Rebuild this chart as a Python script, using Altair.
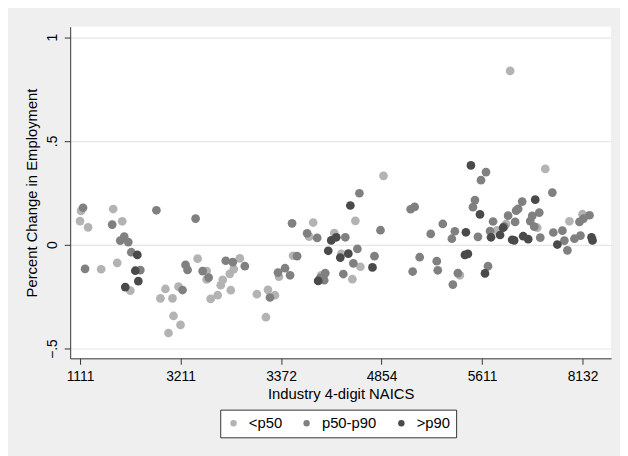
import altair as alt
import pandas as pd

# industry position (rank along the NAICS ordering), tick positions and labels
tick_pos = [0, 100, 200, 300, 400, 500]
tick_labels = ["1111", "3211", "3372", "4854", "5611", "8132"]

x_rank = [0, 1, 3, 5, 8, 21, 32, 33, 37, 40, 42, 44, 45, 48, 50, 51, 57, 55, 60, 58,
          76, 80, 85, 88, 92, 93, 98, 100, 102, 115, 105, 107, 117, 122, 126, 126, 128, 130, 137, 140,
          142, 149, 153, 145, 152, 159, 164, 150, 176, 185, 187, 194, 189, 197, 198, 204, 209, 211, 212, 216,
          226, 228, 232, 236, 240, 237, 239, 244, 243, 247, 250, 253, 255, 264, 260, 259, 267, 262, 271, 269,
          274, 278, 272, 279, 276, 291, 293, 299, 302, 329, 333, 331, 338, 349, 355, 356, 361, 370, 371, 373,
          378, 376, 383, 386, 384, 389, 396, 393, 391, 398, 399, 404, 403, 406, 408, 409, 411, 415, 418, 422,
          421, 424, 426, 433, 430, 432, 436, 434, 440, 441, 446, 453, 457, 450, 448, 452, 455, 458, 463, 470,
          471, 475, 480, 482, 485, 487, 492, 498, 497, 500, 501, 507, 509, 510, 428]

pct_change = [0.114, 0.163, 0.178, -0.116, 0.084, -0.118, 0.097, 0.172, -0.087, 0.020,
              0.113, 0.039, -0.204, 0.013, -0.221, -0.036, -0.049, -0.125, -0.122, -0.175,
              0.166, -0.258, -0.213, -0.425, -0.258, -0.343, -0.202, -0.386, -0.218, 0.126,
              -0.097, -0.121, -0.067, -0.127, -0.127, -0.167, -0.158, -0.261, -0.243, -0.195,
              -0.169, -0.140, -0.117, -0.077, -0.084, -0.066, -0.103, -0.219, -0.238, -0.349,
              -0.217, -0.243, -0.254, -0.134, -0.154, -0.113, -0.147, 0.103, -0.053, -0.055,
              0.055, 0.039, 0.107, 0.033, -0.147, -0.174, -0.160, -0.137, -0.171, -0.029,
              0.021, 0.056, 0.036, 0.036, -0.044, -0.062, -0.043, -0.141, -0.166, 0.189,
              0.115, 0.248, -0.090, -0.106, -0.020, -0.109, -0.055, 0.070, 0.332, 0.171,
              0.182, -0.129, -0.060, 0.052, -0.079, -0.123, 0.100, 0.029, -0.192, 0.065,
              -0.147, -0.137, -0.049, -0.044, 0.060, 0.382, 0.038, 0.215, 0.181, 0.146,
              0.311, 0.350, -0.138, -0.103, 0.066, 0.036, 0.112, 0.069, 0.047, 0.087,
              0.082, 0.100, 0.140, 0.110, 0.024, 0.021, 0.173, 0.164, 0.208, 0.041,
              0.027, 0.217, 0.155, 0.139, 0.114, 0.087, 0.082, 0.034, 0.365, 0.251,
              0.059, 0.001, 0.068, 0.020, -0.027, 0.113, 0.029, 0.044, 0.110, 0.147,
              0.126, 0.142, 0.036, 0.021, 0.837]

group = ["L", "L", "M", "M", "L", "L", "M", "L", "L", "M",
         "L", "M", "D", "M", "L", "M", "D", "D", "M", "D",
         "M", "L", "L", "L", "L", "L", "L", "L", "M", "M",
         "M", "M", "L", "M", "L", "L", "M", "L", "L", "L",
         "L", "L", "L", "M", "M", "L", "M", "L", "L", "L",
         "L", "L", "M", "M", "L", "M", "M", "M", "L", "M",
         "M", "L", "L", "M", "L", "D", "M", "M", "M", "D",
         "D", "L", "D", "M", "L", "D", "D", "M", "L", "D",
         "L", "M", "M", "L", "M", "D", "M", "M", "L", "M",
         "M", "M", "M", "M", "M", "M", "M", "M", "M", "M",
         "L", "M", "D", "D", "D", "D", "M", "M", "M", "D",
         "M", "M", "D", "M", "M", "D", "M", "L", "D", "M",
         "D", "L", "M", "M", "D", "D", "M", "M", "M", "D",
         "D", "D", "M", "M", "M", "M", "L", "M", "L", "M",
         "M", "D", "M", "M", "M", "L", "M", "M", "M", "L",
         "M", "M", "D", "D", "L"]

group_names = {"L": "<p50", "M": "p50-p90", "D": ">p90"}
group_order = ["<p50", "p50-p90", ">p90"]
group_colors = ["#b3b3b3", "#808080", "#4a4a4a"]

df = pd.DataFrame({"x": x_rank, "y": pct_change, "g": [group_names[k] for k in group]})
df["draw"] = df["g"].map({n: i for i, n in enumerate(group_order)})
df = df.sort_values("draw", kind="stable").reset_index(drop=True)

label_expr = "''"
for p, lab in reversed(list(zip(tick_pos, tick_labels))):
    label_expr = f"datum.value == {p} ? '{lab}' : ({label_expr})"

font = "Liberation Sans"

chart = alt.Chart(df).mark_circle(size=78, opacity=1).encode(
    x=alt.X("x:Q",
            scale=alt.Scale(domain=[-9.8, 528.5], nice=False, zero=False),
            axis=alt.Axis(values=tick_pos, labelExpr=label_expr, title="Industry 4-digit NAICS",
                          grid=False, tickSize=6, labelPadding=5, titlePadding=4,
                          labelFontSize=14, titleFontSize=15)),
    y=alt.Y("y:Q",
            scale=alt.Scale(domain=[-0.547, 1.05], nice=False, zero=False),
            axis=alt.Axis(values=[-0.5, 0, 0.5, 1],
                          labelExpr="datum.value == 0 ? '0' : replace(format(datum.value, '.1~f'), '0.', '.')",
                          title="Percent Change in Employment",
                          grid=True, tickSize=6, labelAngle=270, labelAlign="center",
                          labelBaseline="bottom", labelPadding=5, titlePadding=6,
                          labelFontSize=14, titleFontSize=15)),
    color=alt.Color("g:N", scale=alt.Scale(domain=group_order, range=group_colors),
                    sort=group_order,
                    legend=alt.Legend(title=None, orient="none", legendX=152, legendY=388,
                                      direction="horizontal", columns=3,
                                      fillColor="white", strokeColor="#333333",
                                      padding=6, symbolType="circle", symbolSize=42,
                                      symbolStrokeWidth=0, symbolOpacity=1,
                                      labelFontSize=15, labelOffset=8, columnPadding=17,
                                      labelFont=font, labelColor="black")),
).properties(
    width=548, height=336,
    background="#efefef",
    padding={"left": 63, "top": 16, "right": 9, "bottom": 96},
    autosize=alt.AutoSizeParams(type="none"),
).configure_view(
    fill="white", stroke=None,
).configure_axis(
    domainColor="#333333", tickColor="#333333", gridColor="#e6e6e6", gridWidth=1.2,
    labelColor="black", titleColor="black", labelFont=font, titleFont=font,
    titleFontWeight="normal", domainWidth=1, tickWidth=1,
)

chart.save("out.html", embed_options={"renderer": "svg", "actions": False})
